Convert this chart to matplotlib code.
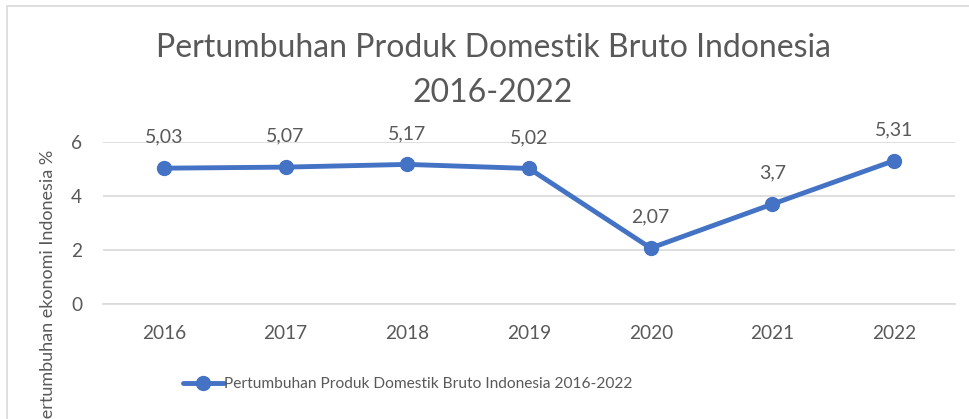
import matplotlib
matplotlib.use("Agg")
import matplotlib.pyplot as plt
from matplotlib.patches import Rectangle

# data
years = ["2016", "2017", "2018", "2019", "2020", "2021", "2022"]
growth = [5.03, 5.07, 5.17, 5.02, 2.07, 3.70, 5.31]
value_labels = ["5,03", "5,07", "5,17", "5,02", "2,07", "3,7", "5,31"]
y_ticks = [0, 2, 4, 6]

blue = "#4472C4"
grey_text = "#595959"
grid_col = "#D9D9D9"

plt.rcParams["font.family"] = ["Lato", "DejaVu Sans"]

W, H = 969, 419
fig = plt.figure(figsize=(W / 100, H / 100), dpi=100)

# chart frame (cropped on right and bottom)
fig.patches.append(Rectangle((7 / W, -0.1), 1.2, (H - 6) / H + 0.1,
                             transform=fig.transFigure, fill=False,
                             edgecolor=grid_col, linewidth=1.2))

ax = fig.add_axes([103 / W, (H - 304) / H, (955 - 103) / W, (304 - 142) / H])
x = list(range(len(years)))
ax.plot(x, growth, color=blue, linewidth=3.5, marker="o", markersize=10,
        solid_capstyle="round", zorder=3,
        label="Pertumbuhan Produk Domestik Bruto Indonesia 2016-2022")

for xi, yi, lab in zip(x, growth, value_labels):
    ax.annotate(lab, (xi, yi), xytext=(0, 31), textcoords="offset pixels",
                ha="center", va="center", fontsize=14, color=grey_text)

ax.set_xlim(-0.5, len(years) - 0.5)
ax.set_ylim(0, 6)
ax.set_yticks(y_ticks)
ax.set_xticks(x)
ax.set_xticklabels(years)
ax.tick_params(length=0, labelsize=13.7, labelcolor=grey_text)
ax.tick_params(axis="y", pad=15)
ax.tick_params(axis="x", pad=15)
ax.grid(axis="y", color=grid_col, linewidth=1.2)
ax.set_axisbelow(True)
for s in ax.spines.values():
    s.set_visible(False)
ax.spines["bottom"].set_visible(True)
ax.spines["bottom"].set_color(grid_col)
ax.spines["bottom"].set_linewidth(1.2)

fig.text(493 / W, 1 - 48 / H, "Pertumbuhan Produk Domestik Bruto Indonesia",
         ha="center", va="center", fontsize=23, color=grey_text)
fig.text(493 / W, 1 - 93 / H, "2016-2022",
         ha="center", va="center", fontsize=23, color=grey_text)

# axis title, cut off at the bottom like in the original
fig.text(48 / W, 1 - 150 / H, "Pertumbuhan ekonomi Indonesia %",
         rotation=90, ha="center", va="top", fontsize=13, color=grey_text)

leg = fig.legend(loc="center", bbox_to_anchor=(408 / W, 1 - 384 / H),
                 frameon=False, fontsize=11.2, handlelength=2.6,
                 handletextpad=0.05, labelcolor=grey_text)

fig.savefig("out.png", dpi=100)
